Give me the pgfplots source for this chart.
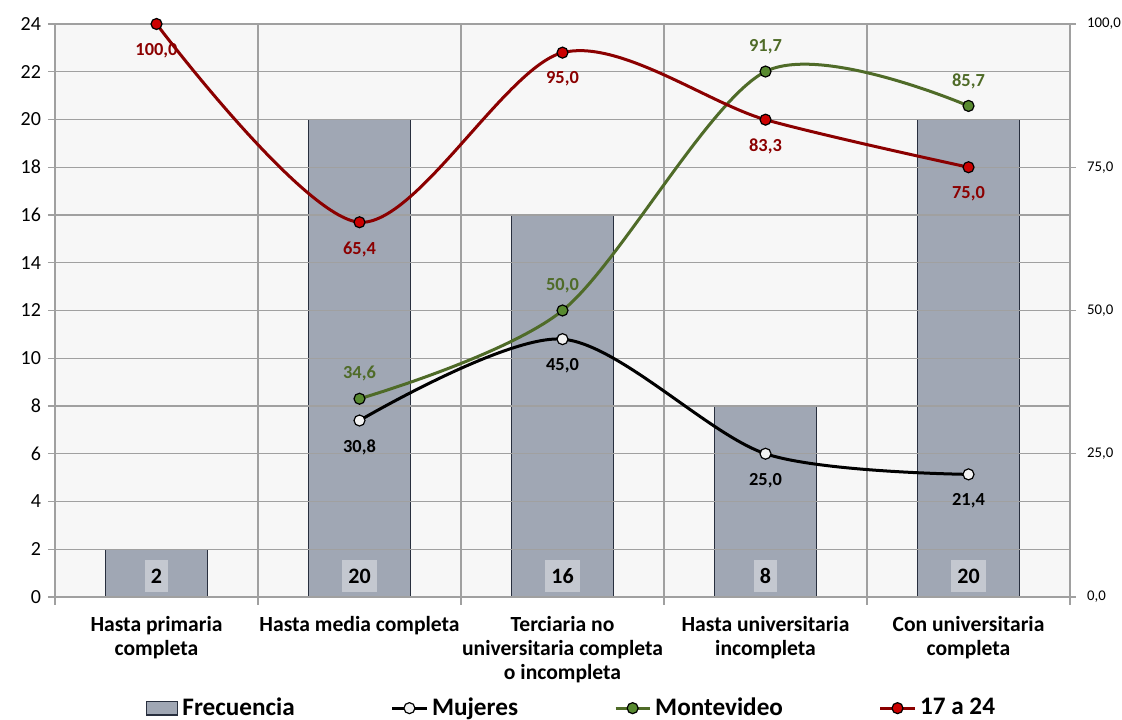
\documentclass[border=0pt]{standalone}
\usepackage{fontspec}
\setmainfont{Carlito}
\usepackage{pgfplots}
\pgfplotsset{compat=1.18}

\definecolor{barfill}{RGB}{160,167,180}
\definecolor{baredge}{RGB}{40,47,62}
\definecolor{lblbox}{RGB}{196,200,208}
\definecolor{bgc}{RGB}{247,247,247}
\definecolor{gridc}{RGB}{160,160,160}
\definecolor{redline}{RGB}{139,0,0}
\definecolor{redmark}{RGB}{204,0,0}
\definecolor{grnline}{RGB}{79,107,40}
\definecolor{grnmark}{RGB}{88,138,48}
\definecolor{whtmark}{RGB}{242,242,242}

\begin{document}
\begin{tikzpicture}
% left axis: frequency bars
\begin{axis}[name=ax1,
  scale only axis, width=507.5pt, height=286.5pt,
  xmin=-0.5, xmax=4.5, ymin=0, ymax=24,
  ytick={0,2,...,24},
  xtick={0,...,4},
  xticklabels={Hasta primaria\\completa, Hasta media completa,
    Terciaria no\\universitaria completa\\o incompleta,
    Hasta universitaria\\incompleta, Con universitaria\\completa},
  major x tick style={draw=none},
  minor xtick={-0.5,0.5,...,4.5},
  xminorgrids, ymajorgrids,
  grid style={draw=gridc, line width=0.6pt},
  minor grid style={draw=gridc, line width=0.6pt},
  axis line style={draw=gridc, line width=0.6pt},
  tick style={draw=gridc, line width=0.6pt},
  tick align=outside, xtick pos=bottom, ytick pos=left,
  major tick length=3.5pt, minor tick length=4pt,
  axis background/.style={fill=bgc},
  axis on top,
  yticklabel style={font=\fontsize{10}{11}\selectfont},
  xticklabel style={font=\bfseries\fontsize{10.8}{12}\selectfont, align=center, yshift=-2.5pt},
  /pgf/number format/assume math mode=true,
]
\addplot[ybar, bar width=0.5, fill=barfill, draw=baredge, line width=0.6pt]
  coordinates {(0,2) (1,20) (2,16) (3,8) (4,20)};
\addplot[draw=none, mark=none, nodes near coords, point meta=explicit symbolic,
  every node near coord/.append style={anchor=center, fill=lblbox,
    font=\bfseries\fontsize{11}{12}\selectfont, inner xsep=3pt, inner ysep=4.2pt}]
  table[meta=lab] {
x y lab
0 0.88 2
1 0.88 20
2 0.88 16
3 0.88 8
4 0.88 20
};
\end{axis}

% right axis: percentages
\begin{axis}[
  scale only axis, width=507.5pt, height=286.5pt,
  xmin=-0.5, xmax=4.5, ymin=0, ymax=100,
  axis x line=none, axis y line*=right,
  y axis line style={draw=gridc, line width=0.6pt, -},
  ytick={0,25,...,100},
  tick style={draw=gridc, line width=0.6pt},
  tick align=outside, major tick length=3pt,
  yticklabel style={font=\fontsize{7.4}{9}\selectfont, xshift=2pt},
  /pgf/number format/.cd, fixed, fixed zerofill, precision=1, use comma, assume math mode=true,
  /pgfplots/.cd,
  legend style={at={(0.51,-0.194)}, anchor=center, draw=none, fill=none,
    font=\bfseries\fontsize{12.6}{14}\selectfont,
    /tikz/every even column/.append style={column sep=46pt}},
  legend columns=4,
]
\addlegendimage{legend image code/.code={\draw[fill=barfill, draw=baredge, line width=0.6pt] (0pt,-3.4pt) rectangle (15.5pt,3.4pt);}}
\addlegendentry{Frecuencia}

\addplot[smooth, draw=black, line width=1.5pt, mark=*, mark size=2.75pt,
  mark options={fill=whtmark, draw=black, line width=0.6pt},
  nodes near coords,
  every node near coord/.append style={anchor=north, yshift=-6pt, text=black,
    font=\bfseries\fontsize{9.2}{10}\selectfont}]
  coordinates {(1,30.8) (2,45.0) (3,25.0) (4,21.4)};
\addlegendentry{Mujeres}

\addplot[smooth, draw=grnline, line width=1.5pt, mark=*, mark size=2.75pt,
  mark options={fill=grnmark, draw=black, line width=0.6pt},
  nodes near coords,
  every node near coord/.append style={anchor=south, yshift=5pt, text=grnline,
    font=\bfseries\fontsize{9.2}{10}\selectfont}]
  coordinates {(1,34.6) (2,50.0) (3,91.7) (4,85.7)};
\addlegendentry{Montevideo}

\addplot[smooth, draw=redline, line width=1.5pt, mark=*, mark size=2.75pt,
  mark options={fill=redmark, draw=black, line width=0.6pt},
  nodes near coords,
  every node near coord/.append style={anchor=north, yshift=-6pt, text=redline,
    font=\bfseries\fontsize{9.2}{10}\selectfont}]
  coordinates {(0,100.0) (1,65.4) (2,95.0) (3,83.3) (4,75.0)};
\addlegendentry{17 a 24}
\end{axis}

\pgfresetboundingbox
\path ([xshift=-27.5pt,yshift=-61.5pt]ax1.south west) rectangle ([xshift=26pt,yshift=12pt]ax1.north east);
\end{tikzpicture}
\end{document}
